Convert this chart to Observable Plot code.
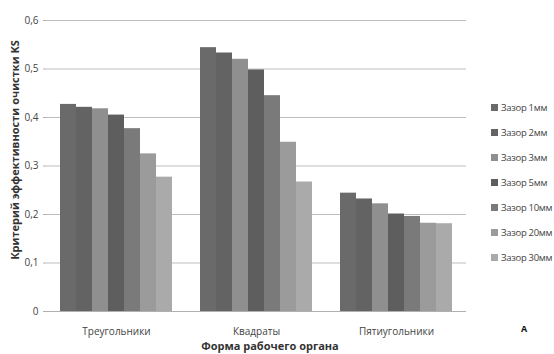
<!DOCTYPE html>
<html>
<head>
<meta charset="utf-8">
<script src="https://cdn.jsdelivr.net/npm/d3@7"></script>
<script src="https://cdn.jsdelivr.net/npm/@observablehq/plot@0.6"></script>
<style>
  html, body { margin:0; padding:0; background:#fff; width:554px; height:354px; overflow:hidden; }
  #wrap { position:relative; width:554px; height:354px; font-family:"Open Sans", sans-serif; color:#444; }
  .abs { position:absolute; white-space:nowrap; }
  #ytitle { left:14px; top:150px; transform:translate(-50%,-50%) rotate(-90deg); font-weight:bold; font-size:11px; color:#333; }
  #xtitle { left:270px; top:345px; transform:translate(-50%,-50%); font-weight:bold; font-size:11px; color:#333; }
  #mark { left:524px; top:328px; transform:translate(-50%,-50%); font-weight:bold; font-size:9px; color:#111; }
  #legend { left:491px; top:101px; font-size:9.5px; letter-spacing:-0.3px; color:#444; }
  .item { height:25px; display:flex; align-items:flex-start; }
  .sw { width:7px; height:7px; margin-top:3px; margin-right:3px; flex:none; }
</style>
</head>
<body>
<div id="wrap">
  <div id="chart"></div>
  <div class="abs" id="ytitle"></div>
  <div class="abs" id="xtitle"></div>
  <div class="abs" id="mark"></div>
  <div class="abs" id="legend"></div>
</div>
<script>
const shapes = ["Треугольники", "Квадраты", "Пятиугольники"];
const gaps = ["Зазор 1мм", "Зазор 2мм", "Зазор 3мм", "Зазор 5мм", "Зазор 10мм", "Зазор 20мм", "Зазор 30мм"];
const triangles = [0.427, 0.421, 0.418, 0.405, 0.377, 0.325, 0.277];
const squares = [0.544, 0.533, 0.520, 0.498, 0.445, 0.349, 0.267];
const pentagons = [0.244, 0.232, 0.222, 0.201, 0.196, 0.182, 0.181];
const colors = ["#6a6a6a", "#636363", "#8f8f8f", "#5e5e5e", "#7a7a7a", "#9b9b9b", "#aaaaaa"];
const yTicks = [0, 0.1, 0.2, 0.3, 0.4, 0.5, 0.6];
const yTitle = "Критерий эффективности очистки KS";
const xTitle = "Форма рабочего органа";
const cornerMark = "А";

const series = [triangles, squares, pentagons];
const data = [];
shapes.forEach((s, i) => gaps.forEach((g, j) => data.push({shape: s, gap: g, value: series[i][j]})));

const fmt = d => d === 0 ? "0" : d.toFixed(1).replace(".", ",");

const chart = Plot.plot({
  width: 554, height: 354,
  marginLeft: 46, marginRight: 88, marginTop: 20, marginBottom: 43,
  style: {fontFamily: "Open Sans, sans-serif", fontSize: "10px", color: "#444", background: "transparent"},
  fx: {domain: shapes, padding: 0, label: null},
  x: {domain: gaps, paddingInner: 0, paddingOuter: 0.74, axis: null},
  y: {domain: [0, 0.6]},
  color: {domain: gaps, range: colors},
  marks: [
    Plot.gridY(yTicks.slice(1), {stroke: "#bdbdbd", strokeOpacity: 1}),
    Plot.barY(data, {fx: "shape", x: "gap", y: "value", fill: "gap"}),
    Plot.ruleY([0], {stroke: "#b0b0b0"}),
    Plot.axisY(yTicks, {tickFormat: fmt, tickSize: 3, tickPadding: 5, label: null, stroke: "#b0b0b0", line: true}),
    Plot.axisFx({anchor: "bottom", tickSize: 0, tickPadding: 16, label: null})
  ]
});
document.getElementById("chart").appendChild(chart);

document.getElementById("ytitle").textContent = yTitle;
document.getElementById("xtitle").textContent = xTitle;
document.getElementById("mark").textContent = cornerMark;
const leg = document.getElementById("legend");
gaps.forEach((g, i) => {
  const it = document.createElement("div");
  it.className = "item";
  const sw = document.createElement("span");
  sw.className = "sw";
  sw.style.background = colors[i];
  const t = document.createElement("span");
  t.textContent = g;
  it.appendChild(sw); it.appendChild(t);
  leg.appendChild(it);
});
</script>
</body>
</html>
